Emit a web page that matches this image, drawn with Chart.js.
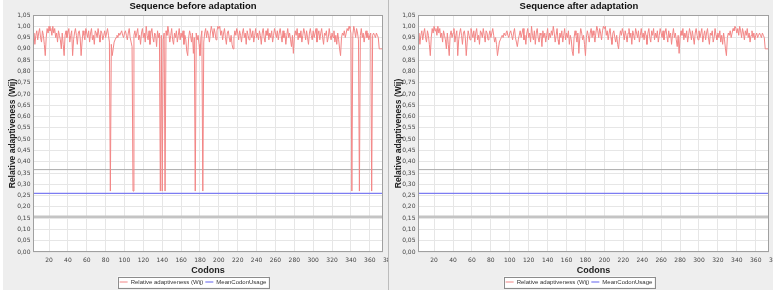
<!DOCTYPE html>
<html>
<head>
<meta charset="utf-8">
<script src="https://cdn.jsdelivr.net/npm/chart.js@4.4.1/dist/chart.umd.min.js"></script>
<style>
    body { margin: 0; background: #ffffff; width: 777px; height: 293px; position: relative; overflow: hidden; }
    .panel { position: absolute; top: 0; height: 290px; background: #eeeeee; }
    #p1 { left: 3px; width: 385px; }
    #p2 { left: 389px; width: 384px; }
    #sep { position: absolute; left: 388px; top: 0; width: 1px; height: 290px; background: #bcbcbc; }
    canvas { display: block; }
</style>
</head>
<body>
<div class="panel" id="p1"><canvas id="grafico_antes" width="385" height="290"></canvas></div>
<div class="panel" id="p2"><canvas id="grafico_depois" width="384" height="290"></canvas></div>
<div id="sep"></div>
<script>
// Wij per codon (codon 1 .. 376)
const wijAfter = [
    0.98,0.97,0.95,0.97,0.92,0.96,0.98,0.94,0.97,0.99,0.95,0.93,0.98,0.96,0.92,0.87,0.95,0.99,0.97,1.00,
    0.98,0.99,0.96,1.00,0.97,0.99,0.95,0.97,0.93,0.98,0.96,0.94,0.90,0.97,0.92,0.87,0.96,0.98,0.95,0.97,
    0.99,0.93,0.96,0.98,0.87,0.94,0.97,0.99,0.96,0.92,0.97,0.98,0.95,0.87,0.93,0.98,0.96,0.94,0.99,0.97,
    0.95,0.98,0.93,0.97,0.99,0.94,0.96,0.92,0.98,0.97,0.95,0.99,0.96,0.93,0.98,0.97,0.94,0.96,0.98,0.95,
    0.97,0.99,0.96,0.93,0.95,0.92,0.87,0.90,0.93,0.94,0.95,0.96,0.95,0.97,0.96,0.97,0.98,0.96,0.95,0.97,
    0.98,0.96,0.94,0.97,0.99,0.95,0.93,0.91,0.94,0.96,0.98,0.95,0.97,0.99,0.94,0.96,0.92,0.97,0.99,0.95,
    0.97,0.93,1.00,0.96,0.94,0.98,0.92,0.97,0.99,0.95,0.93,0.97,0.96,0.91,0.98,0.95,0.97,0.93,0.96,0.99,
    0.94,0.97,0.95,0.98,0.96,1.00,0.97,0.93,0.96,0.99,0.94,0.92,0.97,0.95,0.98,0.93,0.96,0.99,0.94,0.97,
    0.95,0.98,0.92,0.96,0.94,0.89,0.87,0.95,0.98,0.96,0.93,0.97,0.88,0.95,0.99,0.97,0.94,0.96,0.92,0.87,
    0.95,0.98,0.96,0.93,0.97,0.99,0.95,0.98,0.96,0.93,0.97,1.00,0.98,0.95,0.99,0.97,0.94,0.98,1.00,0.99,
    1.00,0.96,0.98,0.94,0.97,0.99,0.95,0.92,0.97,0.98,0.95,0.93,0.96,0.92,0.90,0.95,0.98,0.96,0.99,0.97,
    0.94,0.98,0.96,0.93,0.97,0.99,0.95,0.97,0.92,0.98,0.96,0.94,0.99,0.97,0.95,0.98,0.93,0.96,0.99,0.95,
    0.97,0.94,0.98,0.96,0.92,0.97,0.99,0.95,0.93,0.98,0.96,0.99,0.94,0.97,0.95,0.98,0.93,0.96,0.99,0.97,
    0.95,0.98,0.94,0.97,0.99,0.96,0.93,0.98,0.95,0.97,0.92,0.96,0.99,0.95,0.97,0.94,0.91,0.96,0.88,0.95,
    0.98,0.96,0.99,0.94,0.97,0.95,0.98,0.93,0.96,0.99,0.97,0.94,0.98,0.95,0.92,0.97,0.99,0.96,0.94,0.98,
    0.95,0.97,0.99,0.93,0.96,0.98,0.94,0.97,0.99,0.95,0.92,0.97,0.96,0.98,0.93,0.95,0.99,0.96,0.94,0.97,
    0.95,0.98,0.93,0.96,0.92,0.97,0.94,0.90,0.87,0.95,0.97,0.96,0.98,0.95,0.97,0.99,0.98,1.00,0.99,0.97,
    0.99,0.96,1.00,0.98,0.95,0.99,0.97,0.94,0.98,0.96,0.99,0.95,0.97,0.93,0.96,0.98,0.95,0.97,0.94,0.96,
    0.97,0.95,0.96,0.97,0.96,0.95,0.97,0.96,0.95,0.90,0.90,0.90,0.90,0.90,0.90,0.90
];

const wijBefore = [
    0.98,0.97,0.95,0.97,0.92,0.96,0.98,0.94,0.97,0.99,0.95,0.93,0.98,0.96,0.92,0.87,0.95,0.99,0.97,1.00,
    0.98,0.99,0.96,1.00,0.97,0.99,0.95,0.97,0.93,0.98,0.96,0.94,0.90,0.97,0.92,0.87,0.96,0.98,0.95,0.97,
    0.99,0.93,0.96,0.98,0.87,0.94,0.97,0.99,0.96,0.92,0.97,0.98,0.95,0.87,0.93,0.98,0.96,0.94,0.99,0.97,
    0.95,0.98,0.93,0.97,0.99,0.94,0.96,0.92,0.98,0.97,0.95,0.99,0.96,0.93,0.98,0.97,0.94,0.96,0.98,0.95,
    0.97,0.99,0.96,0.93,0.27,0.92,0.87,0.90,0.93,0.94,0.95,0.96,0.95,0.97,0.96,0.97,0.98,0.96,0.95,0.97,
    0.98,0.96,0.94,0.97,0.99,0.95,0.93,0.91,0.27,0.96,0.98,0.95,0.97,0.99,0.94,0.96,0.92,0.97,0.99,0.95,
    0.97,0.93,1.00,0.96,0.94,0.98,0.92,0.97,0.99,0.95,0.93,0.97,0.96,0.91,0.98,0.95,0.97,0.27,0.96,0.27,
    0.94,0.97,0.27,0.98,0.96,1.00,0.97,0.93,0.96,0.99,0.94,0.92,0.97,0.95,0.98,0.93,0.96,0.99,0.94,0.97,
    0.95,0.98,0.92,0.96,0.94,0.89,0.87,0.95,0.98,0.96,0.93,0.97,0.88,0.95,0.27,0.97,0.94,0.96,0.92,0.87,
    0.95,0.98,0.27,0.93,0.97,0.99,0.95,0.98,0.96,0.93,0.97,1.00,0.98,0.95,0.99,0.97,0.94,0.98,1.00,0.99,
    1.00,0.96,0.98,0.94,0.97,0.99,0.95,0.92,0.97,0.98,0.95,0.93,0.96,0.92,0.90,0.95,0.98,0.96,0.99,0.97,
    0.94,0.98,0.96,0.93,0.97,0.99,0.95,0.97,0.92,0.98,0.96,0.94,0.99,0.97,0.95,0.98,0.93,0.96,0.99,0.95,
    0.97,0.94,0.98,0.96,0.92,0.97,0.99,0.95,0.93,0.98,0.96,0.99,0.94,0.97,0.95,0.98,0.93,0.96,0.99,0.97,
    0.95,0.98,0.94,0.97,0.99,0.96,0.93,0.98,0.95,0.97,0.92,0.96,0.99,0.95,0.97,0.94,0.91,0.96,0.88,0.95,
    0.98,0.96,0.99,0.94,0.97,0.95,0.98,0.93,0.96,0.99,0.97,0.94,0.98,0.95,0.92,0.97,0.99,0.96,0.94,0.98,
    0.95,0.97,0.99,0.93,0.96,0.98,0.94,0.97,0.99,0.95,0.92,0.97,0.96,0.98,0.93,0.95,0.99,0.96,0.94,0.97,
    0.95,0.98,0.93,0.96,0.92,0.97,0.94,0.90,0.87,0.95,0.97,0.96,0.98,0.95,0.97,0.99,0.98,1.00,0.99,0.97,
    0.27,0.96,1.00,0.98,0.95,0.99,0.97,0.94,0.27,0.96,0.99,0.95,0.97,0.93,0.96,0.98,0.95,0.97,0.94,0.96,
    0.97,0.27,0.96,0.97,0.96,0.95,0.97,0.96,0.95,0.90,0.90,0.90,0.90,0.90,0.90,0.90
];

// MeanCodonUsage is constant over the whole sequence
const meanCodons = [1, 376];
const meanCodonUsage = [0.26, 0.26];

// grey reference lines inside the plot
const markerLevels = [0.365, 0.156];
const markerWidths = [1, 2.5];
const markerColors = ['#aaaaaa', '#c4c4c4'];

const xTicks = [20, 40, 60, 80, 100, 120, 140, 160, 180, 200, 220, 240, 260, 280, 300, 320, 340, 360, 380];
const yTicks = [0, 0.05, 0.10, 0.15, 0.20, 0.25, 0.30, 0.35, 0.40, 0.45, 0.50, 0.55, 0.60, 0.65,
                0.70, 0.75, 0.80, 0.85, 0.90, 0.95, 1.00, 1.05];

Chart.defaults.font.family = "'DejaVu Sans', sans-serif";

const fundo = {
    id: 'fundo',
    beforeDraw(chart) {
        const {ctx, chartArea: a} = chart;
        ctx.save();
        ctx.fillStyle = '#ffffff';
        ctx.fillRect(a.left, a.top, a.right - a.left, a.bottom - a.top);
        const box = legendBox(chart);
        if (box) ctx.fillRect(box.x, box.y, box.w, box.h);
        ctx.restore();
    },
    afterDraw(chart) {
        const {ctx, chartArea: a} = chart;
        ctx.save();
        ctx.strokeStyle = '#a0a0a0';
        ctx.lineWidth = 1;
        ctx.strokeRect(a.left + 0.5, a.top + 0.5, a.right - a.left - 1, a.bottom - a.top - 1);
        const box = legendBox(chart);
        if (box) {
            ctx.strokeStyle = '#8c8c8c';
            ctx.strokeRect(Math.round(box.x) + 0.5, Math.round(box.y) + 0.5, Math.round(box.w), Math.round(box.h));
        }
        ctx.restore();
    }
};

function legendBox(chart) {
    const hb = chart.legend && chart.legend.legendHitBoxes;
    if (!hb || !hb.length) return null;
    const first = hb[0], last = hb[hb.length - 1];
    return {
        x: first.left - 2,
        y: first.top - 2.5,
        w: last.left + last.width - first.left + 4,
        h: first.height + 5
    };
}

function criarGrafico(id, titulo, wij, yWidth, padRight) {
    const datasets = [
        {
            label: 'Relative adaptiveness (Wij)',
            data: wij.map((v, i) => ({x: i + 1, y: v})),
            borderColor: '#f38686',
            backgroundColor: '#f38686',
            borderWidth: 1,
            pointRadius: 0,
            tension: 0
        },
        {
            label: 'MeanCodonUsage',
            data: meanCodons.map((c, i) => ({x: c, y: meanCodonUsage[i]})),
            borderColor: '#7c7cf2',
            backgroundColor: '#7c7cf2',
            borderWidth: 1.2,
            pointRadius: 0
        }
    ];
    markerLevels.forEach((lvl, k) => {
        datasets.push({
            label: 'marker' + k,
            data: meanCodons.map(c => ({x: c, y: lvl})),
            borderColor: markerColors[k],
            borderWidth: markerWidths[k],
            pointRadius: 0
        });
    });

    const chart = new Chart(document.getElementById(id), {
        type: 'line',
        data: {datasets: datasets},
        options: {
            responsive: false,
            animation: false,
            layout: {padding: {top: 0, left: 0, right: padRight, bottom: 0}},
            plugins: {
                tooltip: {enabled: false},
                title: {
                    display: true,
                    text: titulo,
                    color: '#111111',
                    padding: {top: 1, bottom: 2.6},
                    font: {size: 9.5, weight: 'bold', family: 'Liberation Sans'}
                },
                legend: {
                    position: 'bottom',
                    labels: {
                        filter: item => item.datasetIndex < 2,
                        usePointStyle: true,
                        pointStyle: 'line',
                        pointStyleWidth: 8,
                        boxHeight: 6,
                        padding: 2,
                        color: '#333333',
                        font: {size: 6, family: 'Liberation Sans'}
                    }
                }
            },
            scales: {
                x: {
                    type: 'linear',
                    min: 3,
                    max: 374,
                    afterBuildTicks: s => { s.ticks = xTicks.map(v => ({value: v})); },
                    afterFit: s => { s.height = 25; s.paddingLeft = 0; s.paddingRight = 0; },
                    grid: {color: '#e6e6e6', drawTicks: false},
                    border: {display: false},
                    ticks: {autoSkip: false, maxRotation: 0, padding: 5, color: '#444444', font: {size: 6}},
                    title: {
                        display: true,
                        text: 'Codons',
                        color: '#222222',
                        padding: {top: 0, bottom: 1.5},
                        font: {size: 9, weight: 'bold', family: 'Liberation Sans'}
                    }
                },
                y: {
                    min: 0,
                    max: 1.05,
                    afterBuildTicks: s => { s.ticks = yTicks.map(v => ({value: v})); },
                    afterFit: s => { s.width = yWidth; },
                    grid: {color: '#e6e6e6', drawTicks: false},
                    border: {display: false},
                    ticks: {
                        padding: 2.5,
                        color: '#444444',
                        font: {size: 6},
                        callback: v => v.toFixed(2).replace('.', ',')
                    },
                    title: {
                        display: true,
                        text: 'Relative adaptiveness (Wij)',
                        color: '#222222',
                        padding: {top: 5, bottom: 0},
                        font: {size: 8.5, weight: 'bold', family: 'Liberation Sans'}
                    }
                }
            }
        },
        plugins: [fundo]
    });

    // plot bottom at y=252, axis block 25px, legend just below
    chart.options.layout.padding.bottom = chart.height - 252 - 25 - chart.legend.height;
    chart.update();
    return chart;
}

const graficoAntes = criarGrafico('grafico_antes', 'Sequence before adaptation', wijBefore, 30, 5);
const graficoDepois = criarGrafico('grafico_depois', 'Sequence after adaptation', wijAfter, 29, 4);
</script>
</body>
</html>
